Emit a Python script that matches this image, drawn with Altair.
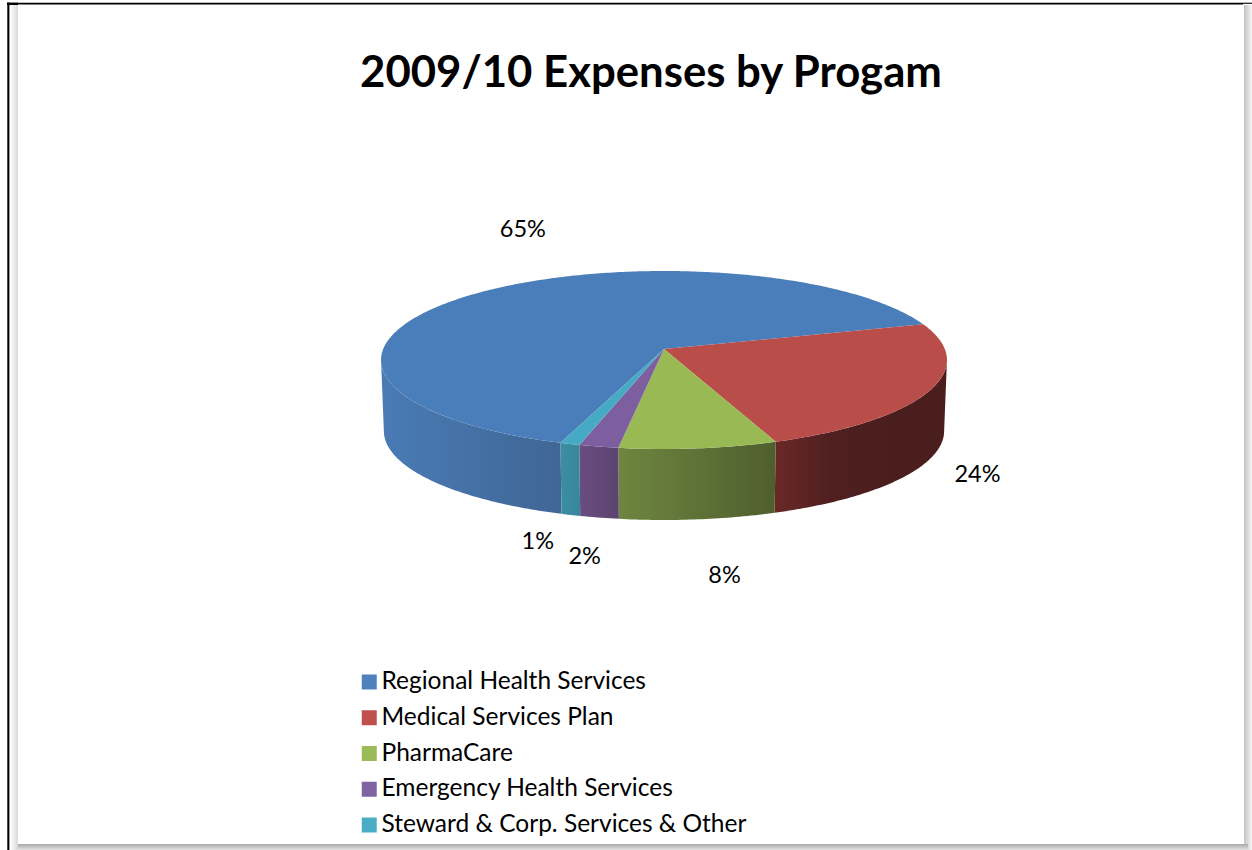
import math
import altair as alt
import pandas as pd

# Programme shares of 2009/10 expenses, in percent
programs = ["Regional Health Services", "Medical Services Plan", "PharmaCare",
            "Emergency Health Services", "Steward & Corp. Services & Other"]
shares = [65, 24, 8, 2, 1]

top_colors = ["#4A7EBB", "#B94D4A", "#98B954", "#7D5F9F", "#46AAC4"]
side_stops = [["#4A7BB5", "#3F6695"], ["#6A2826", "#4F1F1F", "#4B1E1E", "#4B1E1E"], ["#6E8640", "#4F5E2E"],
              ["#6A4D80", "#5B446F"], ["#3B8EA3", "#38879B"]]
legend_colors = ["#4F81BD", "#C0504D", "#9BBB59", "#8064A2", "#4BACC6"]

# Label nudges from the rim point at each slice's middle angle
label_nudges = [(38, -61), (47, 85), (26, 128), (-14, 110), (-32, 98)]

FONT = "Lato"
CX, CY = 664.0, 349.0        # apex of the tilted disc
RX, RY = 280.8, 87.64        # disc radii on screen
PERSP = 0.1236               # foreshortening toward the far edge
DEPTH = 71.0                 # thickness of the disc
START = 251.0                # first slice starts here, sweeping clockwise
SILHOUETTE = 7.1             # angle below horizontal where the disc is widest on screen


def project(theta, depth=0.0):
    t = math.radians(theta)
    denom = 1 + PERSP * math.sin(t)
    squeeze = 1 - 0.01 * (depth > 0)
    return (CX + squeeze * RX * math.cos(t) / denom,
            CY - RY * math.sin(t) / denom + depth)


def arc(a, b, depth=0.0):
    n = max(2, int(abs(a - b) / 0.75) + 1)
    return [project(a + (b - a) * i / (n - 1), depth) for i in range(n)]


def outline(points, name):
    return pd.DataFrame({"x": [p[0] for p in points], "y": [p[1] for p in points],
                         "i": range(len(points)), "slice": name})


x_scale = alt.Scale(domain=[0, 1252], nice=False, zero=False)
y_scale = alt.Scale(domain=[0, 850], nice=False, zero=False, reverse=True)


def polygon(points, name, fill):
    return alt.Chart(outline(points, name)).mark_line(
        fill=fill, stroke="#ffffff", strokeWidth=0, strokeOpacity=0, interpolate="linear-closed"
    ).encode(
        x=alt.X("x:Q", scale=x_scale, axis=None),
        y=alt.Y("y:Q", scale=y_scale, axis=None),
        order="i:Q",
    )


def horizontal(colors):
    stops = [alt.GradientStop(offset=i / (len(colors) - 1), color=c) for i, c in enumerate(colors)]
    return alt.Gradient(gradient="linear", stops=stops, x1=0, x2=1, y1=0, y2=0)


def band(x0, x1, y0, y1, fill):
    return alt.Chart(pd.DataFrame({"k": [0]})).mark_rect(fill=fill).encode(
        x=alt.value(x0), x2=alt.value(x1), y=alt.value(y0), y2=alt.value(y1)
    )


# Slice boundaries from the shares
edges = [START]
for s in shares:
    edges.append(edges[-1] - s * 3.6)
spans = list(zip(edges[:-1], edges[1:]))

layers = []

# Page frame and its soft shadow
layers.append(band(0, 1252, 0, 850, "#ffffff"))
layers.append(band(10, 18, 5, 850, horizontal(["#ffffff", "#d8d8d8"])))
layers.append(band(1244, 1252, 5, 850, horizontal(["#c4c4c4", "#f6f6f6"])))
layers.append(band(18, 1248, 844, 850, alt.Gradient(
    gradient="linear", x1=0, x2=0, y1=0, y2=1,
    stops=[alt.GradientStop(offset=0, color="#a8a8a8"), alt.GradientStop(offset=1, color="#e4e4e4")])))
layers.append(band(7, 1243, 2.7, 4.4, "#000000"))
layers.append(band(1243, 1252, 2.7, 3.8, "#000000"))
layers.append(band(7, 18, 2.7, 5, "#000000"))
layers.append(band(7.3, 9.4, 2.7, 850, "#000000"))

# Hidden anchor that carries the colour legend
legend_df = pd.DataFrame({"program": programs, "x": [CX] * 5, "y": [CY] * 5})
layers.append(alt.Chart(legend_df).mark_square(size=1, opacity=0).encode(
    x=alt.X("x:Q", scale=x_scale, axis=None),
    y=alt.Y("y:Q", scale=y_scale, axis=None),
    color=alt.Color("program:N", sort=programs,
                    scale=alt.Scale(domain=programs, range=legend_colors),
                    legend=alt.Legend(title=None, orient="none", legendX=357, legendY=670,
                                      symbolType="square", symbolSize=225, symbolOpacity=1,
                                      symbolStrokeWidth=0, labelFont=FONT, labelFontSize=24.5,
                                      labelColor="#000000", labelOffset=0, rowPadding=10.75,
                                      labelLimit=500, clipHeight=24)),
))

# Side wall: only the near part of the disc shows one, between the two silhouette points
for (a, b), stops, name in zip(spans, side_stops, programs):
    if a > 100:
        hi, lo = a, max(b, 180.0 + SILHOUETTE)
    else:
        hi, lo = min(a, -SILHOUETTE), b
    rim = arc(hi, lo) + arc(lo, hi, DEPTH)
    layers.append(polygon(rim, name, horizontal(stops)))

# Top face
for (a, b), color, name in zip(spans, top_colors, programs):
    layers.append(polygon([(CX, CY)] + arc(a, b), name, color))

# Percentage labels
for (a, b), share, (dx, dy) in zip(spans, shares, label_nudges):
    px, py = project((a + b) / 2)
    layers.append(alt.Chart(pd.DataFrame({"x": [px], "y": [py], "t": [f"{share}%"]})).mark_text(
        font=FONT, fontSize=23.5, color="#000000", dx=dx, dy=dy, align="center", baseline="middle"
    ).encode(
        x=alt.X("x:Q", scale=x_scale, axis=None),
        y=alt.Y("y:Q", scale=y_scale, axis=None),
        text="t:N",
    ))

chart = alt.layer(*layers).properties(
    width=1252, height=850, padding=0, autosize="none",
    title=alt.TitleParams("2009/10 Expenses by Progam", font=FONT, fontSize=43.7, fontWeight="bold",
                          color="#000000", anchor="middle", frame="group", orient="top",
                          dx=25, dy=96, offset=0),
).configure_view(stroke=None)

chart.save("out.html", embed_options={"renderer": "svg", "actions": False})
